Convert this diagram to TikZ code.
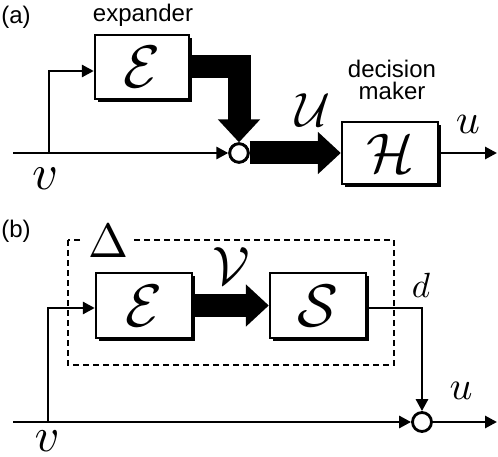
\documentclass[tikz,border=0pt]{standalone}
\usepackage{graphicx}
\usepackage{fontspec}
\setsansfont{Liberation Sans}
\usetikzlibrary{arrows.meta,shadows,calc}
\newcommand\mth[2]{\scalebox{#1}{$#2$}}
\begin{document}
\begin{tikzpicture}[x=1pt,y=-1pt,
  arr/.style={line width=2.8pt,-{Triangle[length=12pt,width=12pt]}},
  bigarr/.style={line width=23pt,line join=miter,-{Triangle[length=23pt,width=41pt]}},
  blk/.style={draw,line width=2.4pt,fill=white,inner sep=0pt,
    drop shadow={shadow xshift=3pt,shadow yshift=-3pt,opacity=1,fill=black}},
  sumnode/.style={circle,draw,line width=2.8pt,fill=white,minimum size=18.5pt,inner sep=0pt},
  lbl/.style={font=\fontsize{24}{22}\selectfont\sffamily,inner sep=0pt},
  mlbl/.style={inner sep=0pt},
  dashbox/.style={line width=1.6pt,dash pattern=on 6pt off 4pt},
]
\useasboundingbox (0,0) rectangle (498,457);

% ---------------- panel (a) ----------------
\node[lbl] (la) at (16,17) {(a)};
\node[lbl] (lexp) at (143,15) {expander};
\node[blk,minimum width=94pt,minimum height=64pt] (Ea) at (142,67) {\mth{6.0}{\mathcal{E}}};
\node[blk,minimum width=96pt,minimum height=62pt] (Ha) at (390,153) {\mth{5.6}{\mathcal{H}}};
\node[lbl,align=center] (ldm) at (392,80) {decision\\maker};
\node[sumnode] (c1) at (239,153) {};
\coordinate (ina) at (13,153);
\coordinate (bra) at (49,153);
\coordinate (outa) at (497,153);

\draw[arr] (ina) -- (c1.west);
\draw[arr] (bra) |- ($(Ea.west)+(0,4)$);
\draw[bigarr] (Ea.east) -| (c1.north);
\draw[bigarr] (c1.east) -- (Ha.west);
\node[sumnode] at (c1) {};
\draw[arr] (Ha.east) -- (outa);

\node[mlbl] (va) at (46,179) {\mth{5.0}{v}};
\node[mlbl] (Ua) at (313,110) {\mth{4.8}{\mathcal{U}}};
\node[mlbl] (ua) at (468,124) {\mth{4.2}{u}};

% ---------------- panel (b) ----------------
\node[lbl] (lb) at (16,231) {(b)};
\draw[dashbox] (68,240) rectangle (394,365);
\node[fill=white,inner xsep=5pt,inner ysep=0pt] (Dl) at (108,241) {\mth{4.8}{\Delta}};
\node[blk,minimum width=96pt,minimum height=65pt] (Eb) at (144,305.5) {\mth{6.0}{\mathcal{E}}};
\node[blk,minimum width=96pt,minimum height=65pt] (Sb) at (318,305.5) {\mth{6.0}{\mathcal{S}}};
\node[sumnode,minimum size=19pt] (c2) at (422,422) {};
\coordinate (inb) at (13,422);
\coordinate (brb) at (48,422);
\coordinate (outb) at (497,422);

\draw[arr] (inb) -- (c2.west);
\draw[arr] (brb) |- ($(Eb.west)+(0,2.5)$);
\draw[bigarr] (Eb.east) -- (Sb.west);
\draw[arr] ($(Sb.east)+(0,2.5)$) -| (c2.north);
\draw[arr] (c2.east) -- (outb);

\node[mlbl] (Vb) at (231,266) {\mth{5.4}{\mathcal{V}}};
\node[mlbl] (db) at (421,285) {\mth{3.5}{d}};
\node[mlbl] (ub) at (461,391) {\mth{4.0}{u}};
\node[mlbl] (vb) at (47,441) {\mth{4.8}{v}};
\end{tikzpicture}
\end{document}
